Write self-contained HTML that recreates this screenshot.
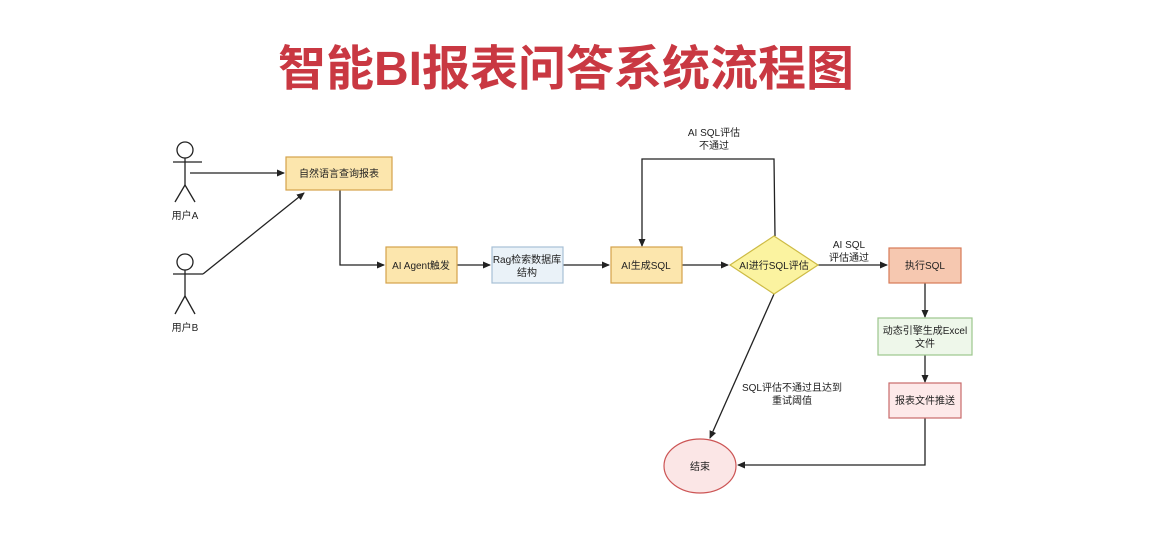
<!DOCTYPE html>
<html><head><meta charset="utf-8"><style>
html,body{margin:0;padding:0;background:#fff;width:1151px;height:543px;overflow:hidden}
svg text{font-family:"Liberation Sans","Noto Sans CJK SC",sans-serif;}
</style></head><body>
<svg width="1151" height="543" viewBox="0 0 1151 543" xmlns="http://www.w3.org/2000/svg">
<defs><marker id="a" markerWidth="8" markerHeight="8" refX="7" refY="4" orient="auto" markerUnits="userSpaceOnUse"><path d="M0,0.5 L8,4 L0,7.5 z" fill="#222"/></marker></defs>
<text x="566" y="85" text-anchor="middle" font-size="48" font-weight="bold" fill="#c93842">智能BI报表问答系统流程图</text>
<g stroke="#222" stroke-width="1.3" fill="none">
<circle cx="185" cy="150" r="8"/><line x1="185" y1="158" x2="185" y2="185"/><line x1="173" y1="162" x2="202" y2="162"/><line x1="185" y1="185" x2="175" y2="202"/><line x1="185" y1="185" x2="195" y2="202"/>
<circle cx="185" cy="262" r="8"/><line x1="185" y1="270" x2="185" y2="296"/><line x1="173" y1="274" x2="203" y2="274"/><line x1="185" y1="296" x2="175" y2="314"/><line x1="185" y1="296" x2="195" y2="314"/>
<path d="M190 173 L284 173" marker-end="url(#a)"/>
<path d="M203 274 L304 193" marker-end="url(#a)"/>
<path d="M340 190 L340 265 L384 265" marker-end="url(#a)"/>
<path d="M457 265 L490 265" marker-end="url(#a)"/>
<path d="M563 265 L609 265" marker-end="url(#a)"/>
<path d="M682 265 L728 265" marker-end="url(#a)"/>
<path d="M775 236 L774 159 L642 159 L642 246" marker-end="url(#a)"/>
<path d="M818 265 L887 265" marker-end="url(#a)"/>
<path d="M925 283 L925 317" marker-end="url(#a)"/>
<path d="M925 355 L925 382" marker-end="url(#a)"/>
<path d="M925 418 L925 465 L738 465" marker-end="url(#a)"/>
<path d="M774 294 L710 438" marker-end="url(#a)"/>
</g>
<g stroke-width="1.2">
<rect x="286" y="157" width="106" height="33" fill="#fce6ad" stroke="#d4a24a"/>
<rect x="386" y="247" width="71" height="36" fill="#fce6ad" stroke="#d4a24a"/>
<rect x="492" y="247" width="71" height="36" fill="#eaf2f8" stroke="#a8c0d6"/>
<rect x="611" y="247" width="71" height="36" fill="#fce6ad" stroke="#d4a24a"/>
<polygon points="774,236 818,265 774,294 730,265" fill="#fbf3a0" stroke="#cdbb45"/>
<rect x="889" y="248" width="72" height="35" fill="#f6c8b0" stroke="#d77a58"/>
<rect x="878" y="318" width="94" height="37" fill="#eef7ea" stroke="#9cc68c"/>
<rect x="889" y="383" width="72" height="35" fill="#fde9e9" stroke="#c86a6a"/>
<ellipse cx="700" cy="466" rx="36" ry="27" fill="#fbe6e6" stroke="#c55"/>
</g>
<g font-size="10" fill="#222" text-anchor="middle">
<text x="185" y="219">用户A</text><text x="185" y="331">用户B</text>
<text x="339" y="177">自然语言查询报表</text>
<text x="421" y="269">AI Agent触发</text>
<text x="527" y="263">Rag检索数据库</text><text x="527" y="276">结构</text>
<text x="646" y="269">AI生成SQL</text>
<text x="774" y="269">AI进行SQL评估</text>
<text x="925" y="269">执行SQL</text>
<text x="925" y="334">动态引擎生成Excel</text><text x="925" y="347">文件</text>
<text x="925" y="404">报表文件推送</text>
<text x="700" y="470">结束</text>
<text x="714" y="136">AI SQL评估</text><text x="714" y="149">不通过</text>
<text x="849" y="248">AI SQL</text><text x="849" y="261">评估通过</text>
<text x="792" y="391">SQL评估不通过且达到</text><text x="792" y="404">重试阈值</text>
</g>
</svg>
</body></html>
